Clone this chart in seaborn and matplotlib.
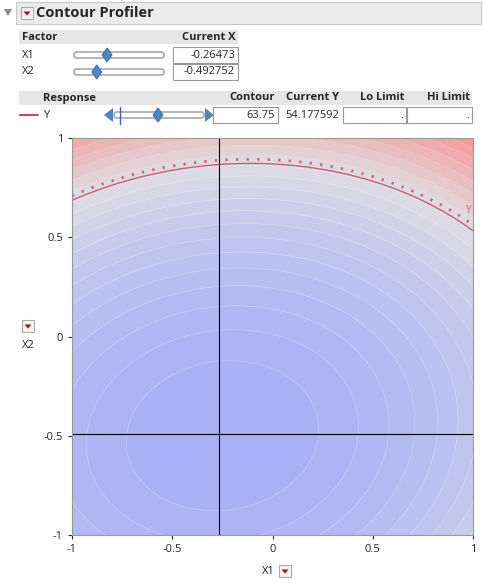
import numpy as np
import matplotlib
matplotlib.use("Agg")
import matplotlib.pyplot as plt
import seaborn as sns
from matplotlib.colors import LinearSegmentedColormap
from matplotlib.patches import Rectangle, Polygon, FancyBboxPatch

sns.set_style("white")
plt.rcParams['font.family'] = ['Open Sans', 'DejaVu Sans']

factors = ["X1", "X2"]
current_x = ["-0.26473", "-0.492752"]
x_now = [-0.26473, -0.492752]
contour_value = 63.75
current_y = 54.177592
ticks = [-1, -0.5, 0, 0.5, 1]
tick_labels = ["-1", "-0.5", "0", "0.5", "1"]

# quadratic response surface
x0, y0 = -0.25, -0.5
A, B, k = 0.62, -0.128, 5.12

fig = plt.figure(figsize=(4.83, 5.87), dpi=100)
W, H = 483, 587


def fx(px):
    return px / W


def fy(py):
    return 1 - py / H


def box(x, y, w, h, fc, ec="none", lw=0.8):
    fig.patches.append(Rectangle((fx(x), fy(y + h)), w / W, h / H, transform=fig.transFigure,
                                 fc=fc, ec=ec, lw=lw))


def diamond(cx, cy, s=7):
    pts = [(cx, cy - s), (cx + s * 0.7, cy), (cx, cy + s), (cx - s * 0.7, cy)]
    fig.patches.append(Polygon([(fx(a), fy(b)) for a, b in pts], transform=fig.transFigure,
                               fc="#4a86c8", ec="#3a70b0", lw=0.8))


def slider(x0p, x1p, cy):
    fig.patches.append(FancyBboxPatch((fx(x0p), fy(cy + 3)), (x1p - x0p) / W, 6 / H,
                                      boxstyle="round,pad=0,rounding_size=0.005",
                                      transform=fig.transFigure, fc="white", ec="#999999", lw=1))


def redbtn(cx, cy):
    box(cx - 6, cy - 6, 12, 12, "#f4f4f4", "#aaaaaa")
    pts = [(cx - 3.5, cy - 1.5), (cx + 3.5, cy - 1.5), (cx, cy + 2.5)]
    fig.patches.append(Polygon([(fx(a), fy(b)) for a, b in pts], transform=fig.transFigure,
                               fc="#c00000", ec="none"))


# header
box(16, 2, 465, 22, "#ebebeb", "#c8c8c8")
fig.patches.append(Polygon([(fx(4), fy(9)), (fx(12), fy(9)), (fx(8), fy(16))],
                           transform=fig.transFigure, fc="#888888", ec="none"))
redbtn(27, 13)
fig.text(fx(36), fy(13), "Contour Profiler", fontsize=10.5, fontweight="bold", va="center")

# factor table
box(19, 30, 219, 14, "#e6e6e6")
fig.text(fx(22), fy(37), "Factor", fontsize=8, fontweight="bold", va="center")
fig.text(fx(235), fy(37), "Current X", fontsize=8, fontweight="bold", va="center", ha="right")
for i, (f, cx, xv) in enumerate(zip(factors, current_x, x_now)):
    cy = 55 + i * 17
    fig.text(fx(22), fy(cy), f, fontsize=8, va="center")
    slider(74, 164, cy)
    diamond(74 + (xv + 1) / 2 * 90, cy)
    box(173, cy - 8, 65, 16, "white", "#999999")
    fig.text(fx(235), fy(cy), cx, fontsize=8, va="center", ha="right")

# response table
box(19, 91, 453, 14, "#e6e6e6")
for txt, xr in [("Contour", 275), ("Current Y", 339), ("Lo Limit", 404), ("Hi Limit", 470)]:
    fig.text(fx(xr), fy(98), txt, fontsize=8, fontweight="bold", va="center", ha="right")
fig.text(fx(43), fy(98), "Response", fontsize=8, fontweight="bold", va="center")
fig.add_artist(plt.Line2D([fx(20), fx(38)], [fy(115), fy(115)], color="#c84b5e", lw=1.5,
                          transform=fig.transFigure))
fig.text(fx(43), fy(115), "Y", fontsize=8, va="center")
slider(114, 204, 115)
fig.patches.append(Polygon([(fx(104), fy(115)), (fx(113), fy(108)), (fx(113), fy(122))],
                           transform=fig.transFigure, fc="#4a86c8", ec="none"))
fig.patches.append(Polygon([(fx(214), fy(115)), (fx(205), fy(108)), (fx(205), fy(122))],
                           transform=fig.transFigure, fc="#4a86c8", ec="none"))
diamond(158, 115)
fig.add_artist(plt.Line2D([fx(120), fx(120)], [fy(107), fy(124)], color="#3060d0", lw=1,
                          transform=fig.transFigure))
box(213, 107, 65, 16, "white", "#999999")
fig.text(fx(275), fy(115), f"{contour_value:g}", fontsize=8, va="center", ha="right")
fig.text(fx(339), fy(115), f"{current_y:.6f}", fontsize=8, va="center", ha="right")
box(343, 107, 63, 16, "white", "#999999")
box(407, 107, 65, 16, "white", "#999999")
fig.text(fx(403), fy(115), ".", fontsize=8, va="center", ha="right")
fig.text(fx(469), fy(115), ".", fontsize=8, va="center", ha="right")

# contour plot
ax = fig.add_axes([fx(72), fy(535), 401 / W, 397 / H])
g = np.linspace(-1, 1, 300)
X, Y = np.meshgrid(g, g)
dx, dy = X - x0, Y - y0
Z = current_y + k * (A * dx ** 2 + B * dx * dy + dy ** 2)
zmin, zmax = Z.min(), Z.max()
mid = (contour_value - zmin) / (zmax - zmin)
cmap = LinearSegmentedColormap.from_list(
    "jmp", [(0, "#a6aff7"), (mid * 0.55, "#c2c6ee"), (mid, "#dfdde3"), (1, "#f79595")])
levels = np.linspace(zmin, zmax, 22)
ax.contourf(X, Y, Z, levels=levels, cmap=cmap)
ax.contour(X, Y, Z, levels=levels[1:-1], colors="white", linewidths=0.4, alpha=0.35)
ax.contour(X, Y, Z, levels=[contour_value], colors="#c8607a", linewidths=1)
ax.contour(X, Y, Z, levels=[contour_value + 0.3], colors="#c8607a", linewidths=2,
           linestyles=[(0, (0.8, 3))])
ax.text(0.965, 0.62, "Y", color="#c8607a", fontsize=7)
ax.axvline(x_now[0], color="black", lw=0.8)
ax.axhline(x_now[1], color="black", lw=0.8)
ax.set_xlim(-1, 1)
ax.set_ylim(-1, 1)
ax.set_xticks(ticks, tick_labels, fontsize=8)
ax.set_yticks(ticks, tick_labels, fontsize=8)
ax.tick_params(length=3, direction="out", left=True, bottom=True)
for s in ax.spines.values():
    s.set_color("#999999")
fig.text(fx(262), fy(572), "X1", fontsize=8, va="center")
redbtn(285, 571)
fig.text(fx(22), fy(345), "X2", fontsize=8, va="center")
redbtn(28, 326)

fig.savefig("out.png", dpi=100)
